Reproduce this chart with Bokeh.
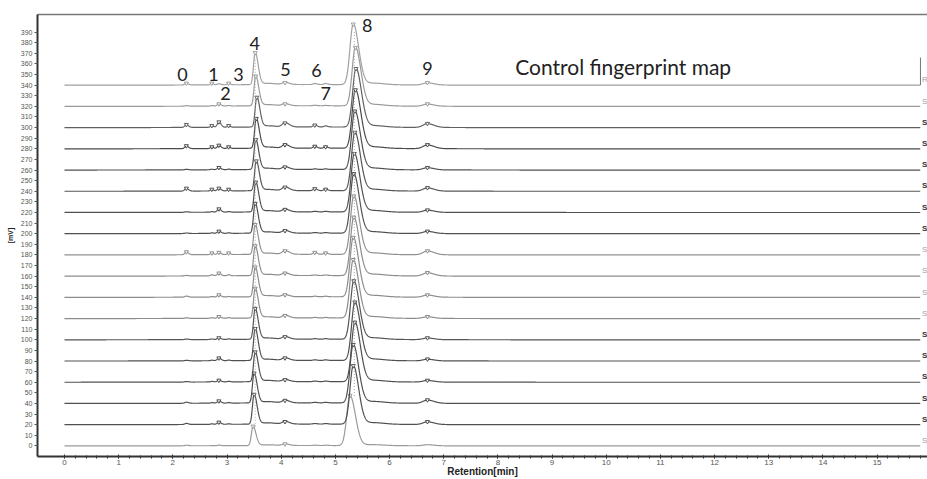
import numpy as np
from bokeh.plotting import figure
from bokeh.models import LinearAxis, FixedTicker, Range1d
from bokeh.core.properties import value
from bokeh.embed import file_html
from bokeh.resources import INLINE

# ---------------- data ----------------
offsets = [0, 20, 40, 60, 80, 100, 120, 140, 160, 180, 200, 220, 240, 260, 280, 300, 320, 340]
trace_names = ["S"] * 17 + ["R"]
trace_colors = ["#9a9a9a", "#505050", "#505050", "#505050", "#505050", "#555555",
                "#8c8c8c", "#8c8c8c", "#8c8c8c", "#909090", "#505050", "#505050",
                "#555555", "#505050", "#4a4a4a", "#606060", "#9a9a9a", "#a0a0a0"]
name_colors = ["#a0a0a0", "#333333", "#333333", "#333333", "#333333", "#333333",
               "#a0a0a0", "#a0a0a0", "#a0a0a0", "#a0a0a0", "#333333", "#333333",
               "#333333", "#333333", "#333333", "#333333", "#a0a0a0", "#a0a0a0"]
name_styles = ["normal" if c == "#a0a0a0" else "bold" for c in name_colors]

# peak retention times (min) of the numbered peaks 0..9
peak_ids = ["0", "1", "2", "3", "4", "5", "6", "7", "8", "9"]
peak_rt = [2.25, 2.72, 2.85, 3.03, 3.52, 4.07, 4.62, 4.82, 5.35, 6.70]
# per-peak shape: left / right width (min)
peak_wl = [0.03, 0.025, 0.03, 0.025, 0.030, 0.05, 0.03, 0.03, 0.060, 0.08]
peak_wr = [0.04, 0.030, 0.04, 0.030, 0.055, 0.08, 0.04, 0.04, 0.100, 0.12]

# per-trace retention of the two main peaks
rt4 = [3.48, 3.50, 3.50, 3.52, 3.52, 3.52, 3.52, 3.52, 3.52, 3.52, 3.52, 3.53, 3.54, 3.53, 3.54, 3.55, 3.53, 3.52]
rt8 = [5.27, 5.33, 5.33, 5.36, 5.36, 5.34, 5.33, 5.33, 5.34, 5.34, 5.34, 5.35, 5.36, 5.36, 5.37, 5.38, 5.37, 5.33]

# per-trace peak heights (mV above each trace's baseline)
h0 = [0.5, 1, 1, 0.5, 0.5, 0.5, 0.5, 1, 0.5, 2.5, 0.5, 0.5, 2.5, 0.5, 2.5, 2.5, 0.5, 1.5]
h1 = [0.0, 0.5, 0.5, 0.5, 0.5, 0.5, 0.5, 0.5, 1, 1.5, 0.5, 0.5, 1.5, 0.5, 1.5, 1.5, 0.5, 1.5]
h2 = [0.5, 2, 2, 1.5, 2.5, 1.5, 1.5, 2, 2.5, 2, 2, 3, 2.5, 2, 3, 5, 2, 1]
h3 = [0.0, 0.5, 0.5, 0.5, 0.5, 0.5, 0.5, 0.5, 1, 1.5, 0.5, 0.5, 1.5, 0.5, 1.5, 1.5, 0.5, 1.5]
h4 = [18, 28, 28, 28, 30, 29, 28, 28, 28, 28, 28, 28, 28, 28, 28, 28, 28, 30]
h5 = [1.5, 2.5, 2.5, 2, 2.5, 2.5, 2.5, 2, 2.5, 3.5, 2.5, 2.5, 3.5, 2.5, 3.5, 4, 2, 2]
h6 = [0.3, 0.5, 0.5, 0.5, 0.5, 0.5, 0.5, 0.5, 0.5, 2, 0.5, 0.5, 2, 0.5, 2, 2, 0.5, 1]
h7 = [0.3, 0.5, 0.5, 0.5, 0.5, 0.5, 0.5, 0.5, 0.5, 1.5, 0.5, 0.5, 1.5, 0.5, 1.5, 1, 0.3, 1]
h8 = [47, 55, 55, 56, 55, 55, 55, 56, 55, 55, 56, 55, 55, 55, 55, 55, 55, 57]
h9 = [1, 2.5, 3, 1.5, 1.5, 1.5, 1.5, 2, 3, 3.5, 2, 2, 3, 2, 3.5, 3.5, 2, 2]
heights = [h0, h1, h2, h3, h4, h5, h6, h7, h8, h9]

# broad baseline humps (centre, width, height) shared by all traces
hump_c = [3.75, 5.70, 4.50]
hump_w = [0.15, 0.20, 1.40]
hump_h = [1.2, 1.5, 0.6]

# peak number labels (x in min, y in mV)
lab_text = ["0", "1", "2", "3", "4", "5", "6", "7", "8", "9"]
lab_x = [2.18, 2.75, 2.97, 3.21, 3.51, 4.08, 4.65, 4.82, 5.59, 6.70]
lab_y = [350.5, 350.5, 331.7, 350.5, 379.6, 354.3, 353.4, 331.7, 396.6, 355.3]

title_text = "Control fingerprint map"
x_ticks = list(range(0, 16))
y_ticks = list(range(0, 400, 10))
t_end = 15.80

# ---------------- figure ----------------
p = figure(width=927, height=479, output_backend="svg", toolbar_location=None,
           x_range=Range1d(-0.498, 15.93), y_range=Range1d(-10.0, 406.6),
           min_border_left=37, min_border_right=0, min_border_top=14, min_border_bottom=22,
           x_axis_location=None, y_axis_location=None)
p.outline_line_color = None
p.grid.visible = False
p.background_fill_color = "white"

xa = LinearAxis(ticker=FixedTicker(ticks=x_ticks, minor_ticks=list(np.round(np.arange(0, 15.81, 0.2), 2))))
xa.axis_line_color = "#333333"
xa.axis_line_width = 2
xa.major_tick_line_color = "#333333"
xa.minor_tick_line_color = "#333333"
xa.major_tick_in = 2
xa.major_tick_out = 2
xa.minor_tick_in = 1
xa.minor_tick_out = 2
xa.major_label_text_font = "Liberation Sans"
xa.major_label_text_font_size = "8px"
xa.major_label_text_color = "#555555"
xa.major_label_standoff = 1
xa.axis_label = "Retention[min]"
xa.axis_label_text_font = "Liberation Sans"
xa.axis_label_text_font_size = "10px"
xa.axis_label_text_font_style = "bold"
xa.axis_label_text_color = "#222222"
xa.axis_label_standoff = -2
p.add_layout(xa, "below")

ya = LinearAxis(ticker=FixedTicker(ticks=y_ticks, minor_ticks=[]))
ya.axis_line_color = "#333333"
ya.axis_line_width = 2
ya.major_tick_line_color = "#555555"
ya.major_tick_in = 0
ya.major_tick_out = 3
ya.major_label_text_font = "Liberation Sans"
ya.major_label_text_font_size = "7px"
ya.major_label_text_color = "#555555"
ya.major_label_standoff = 2
ya.axis_label = "[mV]"
ya.axis_label_text_font = "Liberation Sans"
ya.axis_label_text_font_size = "7px"
ya.axis_label_text_font_style = "bold"
ya.axis_label_text_color = "#222222"
ya.axis_label_standoff = 4
p.add_layout(ya, "left")

top = LinearAxis(ticker=FixedTicker(ticks=[]))
top.axis_line_color = "#777777"
top.axis_line_width = 1.5
top.major_tick_line_color = None
top.minor_tick_line_color = None
top.major_label_text_font_size = "0px"
p.add_layout(top, "above")

x = np.arange(0.0, t_end, 0.004)


def apeak(xx, c, wl, wr, h):
    w = np.where(xx < c, wl, wr)
    return h * np.exp(-0.5 * ((xx - c) / w) ** 2)


for i, off in enumerate(offsets):
    y = np.full_like(x, float(off))
    for k in range(len(peak_rt)):
        c = peak_rt[k]
        if k == 4:
            c = rt4[i]
        if k == 8:
            c = rt8[i]
        y += apeak(x, c, peak_wl[k], peak_wr[k], heights[k][i])
    for c, w, h in zip(hump_c, hump_w, hump_h):
        scale = 0.6 if i == 0 else 1.0
        y += apeak(x, c, w, w, h * scale)
    p.line(x, y, line_color=trace_colors[i], line_width=1.2)

    # peak-top markers
    mx, my = [], []
    for k in range(len(peak_rt)):
        c = peak_rt[k]
        if k == 4:
            c = rt4[i]
        if k == 8:
            c = rt8[i]
        if heights[k][i] >= 1.5:
            mx.append(c)
            my.append(off + heights[k][i] + (0.5 if k in (4, 8) else 0.3))
    p.scatter(mx, my, marker="inverted_triangle", size=4, line_color=trace_colors[i],
              fill_color="white", line_width=1)

# trace names at the right end
for i, off in enumerate(offsets):
    p.text(x=[15.83], y=[off + 5.0], text=[trace_names[i]], text_font=value("Liberation Sans"),
           text_font_size="8px", text_color=name_colors[i], text_baseline="middle",
           text_align="left", text_font_style=name_styles[i])

# alignment dotted lines through main peaks
p.segment(x0=[3.52, 5.35], y0=[18, 47], x1=[3.52, 5.35], y1=[366, 392],
          line_color="#aaaaaa", line_dash="1 2", line_width=1)

# small vertical tick at right of the top trace
p.segment(x0=[15.80], y0=[340], x1=[15.80], y1=[366], line_color="#777777", line_width=1)

# peak number labels
p.text(x=lab_x, y=lab_y, text=lab_text, text_font=value("Lato"), text_font_size="18px",
       text_color="#222222", text_align="center", text_baseline="middle")

p.text(x=[8.32], y=[358], text=[title_text], text_font=value("Lato"), text_font_size="21px",
       text_color="#222222", text_align="left", text_baseline="middle")

open("out.html", "w").write(file_html(p, INLINE))
